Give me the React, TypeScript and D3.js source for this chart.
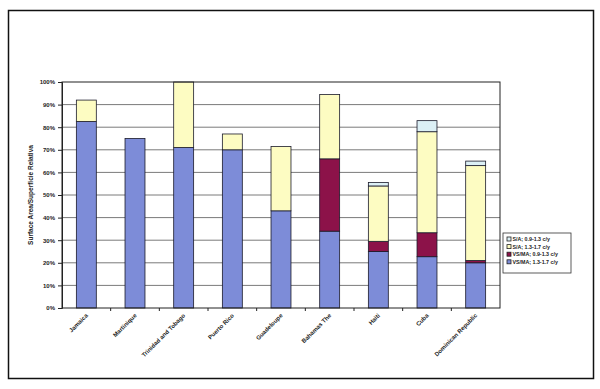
import React, { useRef, useEffect } from 'react';
import * as d3 from 'd3';

const countries = [
  'Jamaica', 'Martinique', 'Trinidad and Tobago', 'Puerto Rico', 'Guadeloupe',
  'Bahamas The', 'Haiti', 'Cuba', 'Dominican Republic',
];
// stacked bottom -> top
const vsma1317 = [82.5, 75, 71, 70, 43, 34, 25, 22.7, 20];
const vsma0913 = [0, 0, 0, 0, 0, 32, 4.5, 10.6, 1];
const sa1317 = [9.5, 0, 29, 7, 28.5, 28.5, 24.5, 44.7, 42];
const sa0913 = [0, 0, 0, 0, 0, 0, 1.5, 4.9, 2];

const seriesNames = ['VS/MA; 1.3-1.7 c/y', 'VS/MA; 0.9-1.3 c/y', 'S/A; 1.3-1.7 c/y', 'S/A; 0.9-1.3 c/y'];
const seriesColors = ['#7d8cd8', '#8c1249', '#fdfcc2', '#dcf0f6'];
const yTicks = [0, 10, 20, 30, 40, 50, 60, 70, 80, 90, 100];

const App: React.FC = () => {
  const svgRef = useRef<SVGSVGElement>(null);

  useEffect(() => {
    if (!svgRef.current) return;
    const svg = d3.select(svgRef.current);
    svg.selectAll('*').remove();

    const left = 62, right = 500, top = 82, bottom = 308;
    const font = 'Liberation Sans, Arial, sans-serif';

    // outer frame
    svg.append('rect')
      .attr('x', 8.5).attr('y', 10.5).attr('width', 585).attr('height', 368)
      .attr('fill', '#fff').attr('stroke', '#111').attr('stroke-width', 1.5);

    const x = d3.scaleBand<string>().domain(countries).range([left, right]).paddingInner(0.59).paddingOuter(0.295);
    const xb = d3.scaleBand<string>().domain(countries).range([left, right]);
    const y = d3.scaleLinear().domain([0, 100]).range([bottom, top]);

    // gridlines
    svg.append('g')
      .selectAll('line')
      .data(yTicks.slice(1, -1))
      .join('line')
      .attr('x1', left).attr('x2', right)
      .attr('y1', d => y(d)).attr('y2', d => y(d))
      .attr('stroke', '#7a7a7a').attr('stroke-width', 1);

    const rows = countries.map((c, i) => ({
      country: c, s0: vsma1317[i], s1: vsma0913[i], s2: sa1317[i], s3: sa0913[i],
    }));
    const stack = d3.stack<any>().keys(['s0', 's1', 's2', 's3']);
    const layers = stack(rows);

    svg.append('g')
      .selectAll('g')
      .data(layers)
      .join('g')
      .attr('fill', (_, i) => seriesColors[i])
      .selectAll('rect')
      .data(d => d.filter(p => p[1] - p[0] > 0))
      .join('rect')
      .attr('x', d => x(d.data.country)!)
      .attr('width', x.bandwidth())
      .attr('y', d => y(d[1]))
      .attr('height', d => y(d[0]) - y(d[1]))
      .attr('stroke', '#1a1a2a').attr('stroke-width', 0.8);

    // plot border
    svg.append('rect')
      .attr('x', left).attr('y', top).attr('width', right - left).attr('height', bottom - top)
      .attr('fill', 'none').attr('stroke', '#222').attr('stroke-width', 1);

    // y axis
    const ya = svg.append('g').attr('transform', `translate(${left},0)`)
      .call(d3.axisLeft(y).tickValues(yTicks).tickSize(4).tickFormat(d => `${d}%`));
    ya.select('.domain').attr('stroke', '#222');
    ya.selectAll('line').attr('stroke', '#222');
    ya.selectAll('text').attr('font-family', font).attr('font-size', 6).attr('font-weight', 'bold').attr('fill', '#222');

    // x axis ticks at band boundaries
    svg.append('g')
      .selectAll('line')
      .data(countries.slice(1))
      .join('line')
      .attr('x1', d => xb(d)!).attr('x2', d => xb(d)!)
      .attr('y1', bottom).attr('y2', bottom + 3)
      .attr('stroke', '#222');

    svg.append('g')
      .selectAll('text')
      .data(countries)
      .join('text')
      .attr('transform', d => `translate(${x(d)! + x.bandwidth() / 2 + 2},${bottom + 8}) rotate(-45)`)
      .attr('text-anchor', 'end')
      .attr('font-family', font).attr('font-size', 6).attr('font-weight', 'bold').attr('fill', '#222')
      .text(d => d);

    svg.append('text')
      .attr('transform', `translate(33,${(top + bottom) / 2}) rotate(-90)`)
      .attr('text-anchor', 'middle')
      .attr('font-family', font).attr('font-size', 6.5).attr('font-weight', 'bold').attr('fill', '#222')
      .text('Surface Area/Superficie Relativa');

    // legend
    const lg = svg.append('g').attr('transform', 'translate(503,233)');
    lg.append('rect').attr('width', 68).attr('height', 40)
      .attr('fill', '#fff').attr('stroke', '#333').attr('stroke-width', 0.8);
    const items = seriesNames.map((n, i) => ({ n, c: seriesColors[i] })).reverse();
    const li = lg.selectAll('g').data(items).join('g')
      .attr('transform', (_, i) => `translate(4,${8 + i * 7.6})`);
    li.append('rect').attr('x', 0).attr('y', -4).attr('width', 4).attr('height', 4)
      .attr('fill', d => d.c).attr('stroke', '#222').attr('stroke-width', 0.8);
    li.append('text').attr('x', 5.5).attr('y', 0)
      .attr('font-family', font).attr('font-size', 5.3).attr('font-weight', 'bold').attr('fill', '#222')
      .text(d => d.n);
  }, []);

  return (
    <div style={{ position: 'absolute', left: 0, top: 0 }}>
      <svg ref={svgRef} width={600} height={389} style={{ display: 'block', background: '#fff' }}></svg>
    </div>
  );
};

export default App;
